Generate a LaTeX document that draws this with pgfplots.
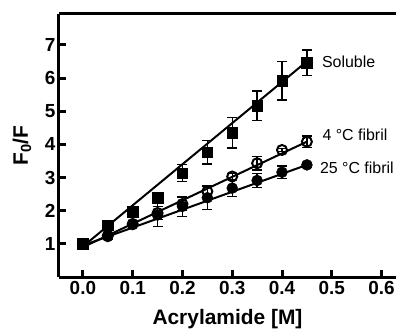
\documentclass[border=0pt]{standalone}
\usepackage{pgfplots}
\pgfplotsset{compat=1.18}
\usepackage{fontspec}
\setmainfont{Liberation Sans}
\begin{document}
\begin{tikzpicture}
\begin{axis}[name=ax,
  scale only axis, width=337bp, height=263bp,
  xmin=-0.048, xmax=0.629, ymin=0, ymax=7.93,
  axis x line=box, axis y line=left,
  axis line style={line width=3bp,-},
  xtick={0,0.1,0.2,0.3,0.4,0.5,0.6},
  ytick={1,2,3,4,5,6,7},
  xtick pos=bottom, ytick pos=left,
  tick align=inside, major tick length=7bp,
  tick style={line width=3bp,black},
  /pgf/number format/assume math mode=true,
  xticklabel style={/pgf/number format/fixed,/pgf/number format/fixed zerofill,/pgf/number format/precision=1, yshift=-1bp},
  ticklabel style={font=\bfseries\fontsize{19}{19}\selectfont},
  xlabel={\bfseries Acrylamide [M]},
  ylabel={\bfseries F$_\mathbf{0}$/F},
  every axis x label/.style={at={(rel axis cs:0.5,0)}, yshift=-42bp, anchor=center, font=\bfseries\fontsize{21}{21}\selectfont},
  every axis y label/.style={at={(rel axis cs:0,0.5)}, xshift=-37bp, anchor=center, rotate=90, font=\bfseries\fontsize{21}{21}\selectfont},
  clip=false,
]
\draw[line width=3bp] (rel axis cs:0,1) -- (rel axis cs:1,1);
% fit lines
\addplot[black, line width=2bp] coordinates {(0,0.92) (0.45,6.5)};
\addplot[black, line width=2bp] coordinates {(0,0.9) (0.45,4.08)};
\addplot[black, line width=2bp] coordinates {(0,0.95) (0.45,3.38)};
% 25 C fibril
\addplot[only marks, mark=*, mark size=5.5bp, black,
  error bars/.cd, y dir=both, y explicit,
  error bar style={line width=1.3bp,black},
  error mark options={rotate=90,mark size=5bp,line width=1.3bp,black}]
  table[x=x,y=y,y error=e] {
x y e
0.00 1.00 0.05
0.05 1.22 0.08
0.10 1.58 0.05
0.15 1.87 0.35
0.20 2.13 0.30
0.25 2.39 0.35
0.30 2.68 0.26
0.35 2.91 0.21
0.40 3.16 0.19
0.45 3.38 0.08
};
% 4 C fibril
\addplot[only marks, mark=o, mark size=5bp, black, mark options={line width=2bp, fill=white},
  error bars/.cd, y dir=both, y explicit,
  error bar style={line width=1.3bp,black},
  error mark options={rotate=90,mark size=5bp,line width=1.3bp,black}]
  table[x=x,y=y,y error=e] {
x y e
0.00 1.00 0.05
0.05 1.25 0.05
0.10 1.60 0.05
0.15 1.93 0.20
0.20 2.20 0.20
0.25 2.58 0.15
0.30 3.03 0.10
0.35 3.43 0.20
0.40 3.83 0.05
0.45 4.08 0.17
};
% Soluble
\addplot[only marks, mark=square*, mark size=5.2bp, black,
  error bars/.cd, y dir=both, y explicit,
  error bar style={line width=1.3bp,black},
  error mark options={rotate=90,mark size=5bp,line width=1.3bp,black}]
  table[x=x,y=y,y error=e] {
x y e
0.00 1.00 0.05
0.05 1.57 0.08
0.10 1.97 0.08
0.15 2.39 0.10
0.20 3.13 0.26
0.25 3.76 0.35
0.30 4.35 0.46
0.35 5.16 0.45
0.40 5.92 0.58
0.45 6.46 0.38
};
\node[anchor=west, inner sep=0pt, font=\fontsize{16}{16}\selectfont] at (axis cs:0.480,6.49) {Soluble};
\node[anchor=west, inner sep=0pt, font=\fontsize{16}{16}\selectfont] at (axis cs:0.481,4.28) {4 °C fibril};
\node[anchor=west, inner sep=0pt, font=\fontsize{16}{16}\selectfont] at (axis cs:0.476,3.28) {25 °C fibril};
\end{axis}
\pgfresetboundingbox
\path ([shift={(-59bp,-53bp)}]ax.south west) rectangle ([shift={(0bp,14bp)}]ax.north east);
\end{tikzpicture}
\end{document}
